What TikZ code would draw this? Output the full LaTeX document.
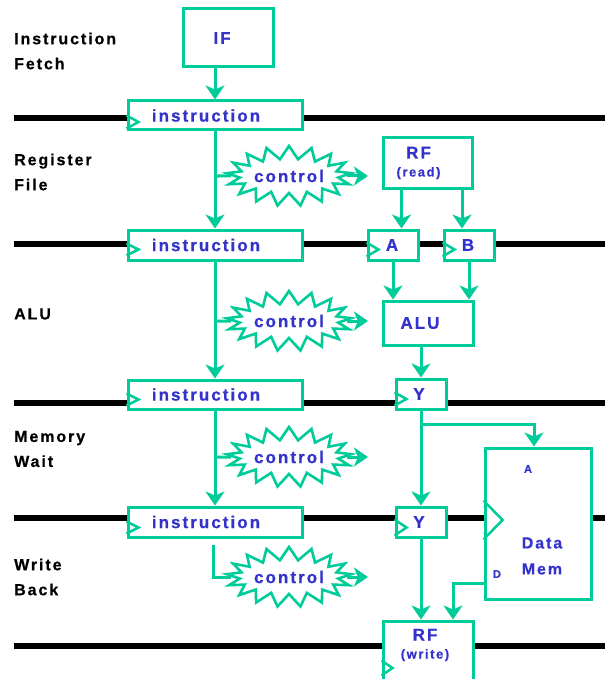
\documentclass[tikz,border=0pt]{standalone}
\usepackage{fontspec}
\setmainfont{Liberation Sans}
\newfontfamily\hb{Liberation Sans Bold}[LetterSpace=12, FakeBold=0.6]
\usetikzlibrary{shapes.symbols,arrows.meta}
\definecolor{grn}{RGB}{0,204,153}
\definecolor{blu}{RGB}{51,51,204}
\newcommand\fs[2][]{\fontsize{#2}{#2}\selectfont}
\newcommand\clockmark[4]{\draw[clk] ([yshift=#2]#1.south west) -- ++(#3,#4/2) -- ++(-#3,#4/2);}
\begin{document}
\begin{tikzpicture}[x=1pt,y=-1pt,
  box/.style={draw=grn, line width=3pt, fill=white, text=blu, font=\hb\fs{17}, inner sep=0pt, align=center},
  burst/.style={starburst, starburst points=17, starburst point height=13pt, random starburst=0, draw=grn, line width=2.6pt, fill=white, text=blu, font=\hb\fs{17}, minimum width=108pt, minimum height=60pt, inner sep=0pt},
  arr/.style={draw=grn, line width=3pt, -{Stealth[length=14pt 0 0,width=19pt 0 0,inset=4pt]}},
  wire/.style={draw=grn, line width=3pt},
  clk/.style={draw=grn, line width=2.5pt},
  bar/.style={draw=black, line width=6pt},
  stage/.style={anchor=west, align=left, font=\hb\fontsize{16}{25}\selectfont, text=black, inner sep=0pt},
  lbl/.style={text=blu, font=\hb\fs{15}, inner sep=0pt, align=left}]
\useasboundingbox (0,0) rectangle (605,679);
% pipeline bars
\foreach \n/\y in {1/118,2/244,3/403,4/518,5/646}{
  \coordinate (b\n l) at (14,\y); \coordinate (b\n r) at (605,\y);
  \draw[bar] (b\n l) -- (b\n r);}
% stage labels
\node[stage] (s1) at (14,51) {Instruction\\Fetch};
\node[stage] (s2) at (14,172) {Register\\File};
\node[stage] (s3) at (14,314) {ALU};
\node[stage] (s4) at (14,449) {Memory\\Wait};
\node[stage] (s5) at (14,577) {Write\\Back};
% boxes
\node[box, minimum width=90pt, minimum height=58pt] (IF) at (228,38) {IF\hspace*{12pt}};
\node[box, minimum width=174pt, minimum height=29pt] (ins1) at (215,115.5) {instruction\hspace*{18pt}};
\node[box, minimum width=174pt, minimum height=30pt] (ins2) at (215,245) {instruction\hspace*{18pt}};
\node[box, minimum width=174pt, minimum height=29pt] (ins3) at (215,394.5) {instruction\hspace*{18pt}};
\node[box, minimum width=174pt, minimum height=30pt] (ins4) at (215,522) {instruction\hspace*{18pt}};
\node[box, minimum width=89pt, minimum height=50pt] (RFr) at (427.5,163) {RF\hspace*{18pt}\\[1pt]{\fs{13}(read)\hspace*{18pt}}};
\node[box, minimum width=50pt, minimum height=30pt] (A) at (393,245) {A\hspace*{2pt}};
\node[box, minimum width=50pt, minimum height=30pt] (B) at (469,245) {B\hspace*{2pt}};
\node[box, minimum width=90pt, minimum height=44pt] (ALU) at (428,323) {ALU\hspace*{16pt}};
\node[box, minimum width=50pt, minimum height=30pt] (Y1) at (421,394) {Y\hspace*{4pt}};
\node[box, minimum width=50pt, minimum height=30pt] (Y2) at (421,522) {Y\hspace*{4pt}};
\node[box, minimum width=106pt, minimum height=151pt] (DM) at (538,523.5) {};
\node[lbl, font=\hb\fontsize{16}{26}\selectfont] (DMt) at (542,556) {Data\\Mem};
\node[lbl, font=\hb\fs{11}] (DMa) at (528,469) {A};
\node[lbl, font=\hb\fs{11}] (DMd) at (497,574) {D};
\node[box, minimum width=90pt, minimum height=70pt] (RFw) at (428,656) {};
\node[box, draw=none, fill=none] (RFwt) at (425,645) {RF\\[1pt]{\fs{13}(write)}};
% control bursts
\node[burst] (c1) at (289,176) {control};
\node[burst] (c2) at (289,321) {control};
\node[burst] (c3) at (289,457) {control};
\node[burst] (c4) at (289,577) {control};
% clock marks
\clockmark{ins1}{16pt}{12}{13}
\clockmark{ins2}{18pt}{12}{12}
\clockmark{ins3}{17pt}{12}{12}
\clockmark{ins4}{17pt}{12}{12}
\clockmark{A}{19pt}{12}{14}
\clockmark{B}{19pt}{12}{14}
\clockmark{Y1}{18pt}{12}{13}
\clockmark{Y2}{19pt}{12}{16}
\clockmark{DM}{100pt}{19}{39}
\draw[clk] ([yshift=-41pt]RFw.north west) -- ++(11,7.5) -- ++(-11,7.5);
% connectors
\coordinate (sp) at (215,0);
\draw[arr] (IF.south -| sp) -- (ins1.north -| sp);
\draw[arr] (ins1.south -| sp) -- (ins2.north -| sp);
\draw[arr] (ins2.south -| sp) -- (ins3.north -| sp);
\draw[arr] (ins3.south -| sp) -- (ins4.north -| sp);
\draw[wire] (sp |- c1) -- (c1.west);
\draw[wire] (sp |- c2) -- (c2.west);
\draw[wire] (sp |- c3) -- (c3.west);
\draw[wire] ([xshift=-2pt,yshift=-6pt]ins4.south) |- (c4.west);
\foreach \c in {c1,c2,c3,c4}{\draw[arr] (\c.east) -- ++(21,0);}
\draw[arr] ([xshift=-26pt]RFr.south) -- ([xshift=-26pt]RFr.south |- A.north);
\draw[arr] ([xshift=34.5pt]RFr.south) -- ([xshift=34.5pt]RFr.south |- B.north);
\draw[arr] (A.south) -- (A.south |- ALU.north);
\draw[arr] (B.south) -- (B.south |- ALU.north);
\draw[arr] (Y1.north |- ALU.south) -- (Y1.north);
\draw[arr] (Y1.south) -- (Y2.north);
\draw[arr] ([yshift=-14pt]Y1.south) -| ([xshift=-4pt]DM.north);
\draw[arr] (Y2.south) -- (Y2.south |- RFw.north);
\draw[arr] ([yshift=17pt]DM.south west) -| ([xshift=25pt]RFw.north);
\end{tikzpicture}
\end{document}
